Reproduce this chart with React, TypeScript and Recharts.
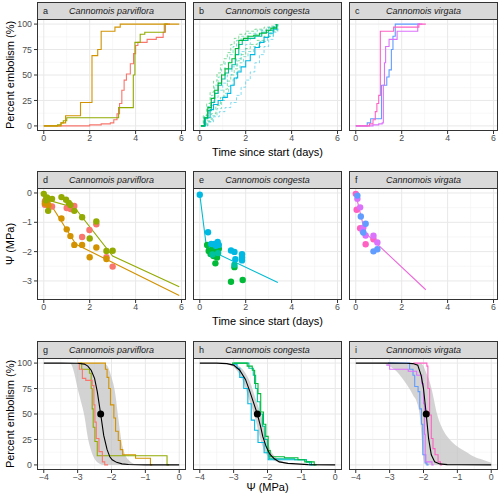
import React from "react";
import { ComposedChart, Line, Area, Scatter, XAxis, YAxis, CartesianGrid } from "recharts";

type P = [number, number];

// colours (ggplot hue palette, 9 levels)
const RED = "#F8766D";
const GOLD = "#D39200";
const OLIVE = "#93AA00";
const GREEN = "#00BA38";
const TEAL = "#00C19F";
const CYAN = "#00B9E3";
const BLUE = "#619CFF";
const PURPLE = "#DB72FB";
const PINK = "#FF61C3";

const speciesNames = ["Cannomois parviflora", "Cannomois congesta", "Cannomois virgata"];
const panelLetters = ["a", "b", "c", "d", "e", "f", "g", "h", "i"];

const dayTicks = [0, 2, 4, 6];
const dayMinor = [1, 3, 5];
const pctTicks = [0, 25, 50, 75, 100];
const pctMinor = [12.5, 37.5, 62.5, 87.5];
const psiTicks = [-3, -2, -1, 0];
const psiMinor = [-3.5, -2.5, -1.5, -0.5];
const mpaTicks = [-4, -3, -2, -1, 0];
const mpaMinor = [-3.5, -2.5, -1.5, -0.5];

// ---- row 1: embolism over time (days, %) ----
const aGold: P[] = [[0, 0], [0.75, 3], [0.95, 10], [1.6, 23], [2.1, 69], [2.35, 75], [2.5, 93], [3.1, 97], [3.33, 100], [5.9, 100]];
const aOlive: P[] = [[0, 0], [0.6, 1], [0.75, 3], [0.85, 5], [1.0, 8], [3.26, 18], [3.9, 50], [3.97, 82], [4.2, 90], [4.4, 92], [5.25, 100], [5.4, 100]];
const aRed: P[] = [[0, 0], [1.5, 0], [2.0, 1], [2.5, 2], [2.9, 3], [3.05, 6], [3.19, 12], [3.3, 22], [3.4, 35], [3.5, 45], [3.6, 51], [3.77, 61], [3.91, 71], [4.0, 79], [4.1, 82], [4.5, 85], [4.9, 87], [5.2, 92], [5.3, 100], [5.5, 100]];

const bGreen: P[] = [[0.05, 0], [0.2, 8], [0.35, 18], [0.5, 27], [0.65, 35], [0.8, 42], [0.95, 50], [1.1, 56], [1.25, 62], [1.4, 66], [1.55, 76], [1.7, 84], [1.9, 86], [2.1, 88], [2.35, 89], [2.6, 91], [2.9, 94], [3.1, 96], [3.35, 100]];
const bTeal: P[] = [[0.05, 0], [0.2, 7], [0.35, 15], [0.5, 23], [0.65, 32], [0.8, 40], [0.95, 46], [1.1, 52], [1.25, 56], [1.4, 60], [1.55, 70], [1.7, 80], [1.85, 84], [2.1, 86], [2.4, 88], [2.7, 92], [3.0, 94], [3.2, 97], [3.35, 100]];
const bCyan: P[] = [[0.05, 0], [0.25, 8], [0.45, 16], [0.6, 21], [0.8, 25], [1.0, 28], [1.2, 32], [1.35, 40], [1.5, 47], [1.65, 53], [1.8, 58], [2.0, 64], [2.2, 70], [2.4, 77], [2.6, 82], [2.8, 87], [3.0, 91], [3.2, 95], [3.35, 100]];
const bGreenHi: P[] = [[0.05, 0], [0.15, 10], [0.3, 22], [0.45, 33], [0.6, 44], [0.75, 52], [0.9, 60], [1.05, 66], [1.2, 72], [1.35, 80], [1.5, 86], [1.7, 90], [2.0, 93], [2.4, 95], [2.8, 97], [3.1, 98], [3.3, 100]];
const bGreenLo: P[] = [[0.1, 0], [0.3, 5], [0.5, 12], [0.7, 20], [0.9, 28], [1.05, 36], [1.2, 44], [1.35, 50], [1.5, 56], [1.65, 64], [1.8, 70], [2.0, 76], [2.2, 80], [2.5, 84], [2.8, 88], [3.1, 93], [3.35, 100]];
const bTealHi: P[] = [[0.05, 0], [0.18, 9], [0.33, 19], [0.5, 30], [0.65, 40], [0.8, 48], [0.95, 56], [1.1, 62], [1.3, 70], [1.45, 78], [1.6, 84], [1.8, 88], [2.1, 91], [2.5, 94], [2.9, 96], [3.25, 100]];
const bTealLo: P[] = [[0.12, 0], [0.35, 4], [0.55, 10], [0.75, 17], [0.95, 25], [1.1, 32], [1.25, 39], [1.45, 46], [1.6, 54], [1.75, 62], [1.9, 68], [2.1, 73], [2.35, 78], [2.65, 83], [2.95, 88], [3.2, 94], [3.4, 100]];
const bCyanHi: P[] = [[0.05, 0], [0.2, 10], [0.4, 20], [0.6, 28], [0.8, 35], [1.0, 42], [1.2, 50], [1.4, 58], [1.6, 66], [1.8, 73], [2.0, 80], [2.2, 86], [2.4, 90], [2.7, 94], [3.0, 97], [3.3, 100]];
const bCyanLo: P[] = [[0.1, 0], [0.35, 4], [0.6, 9], [0.85, 14], [1.1, 18], [1.35, 23], [1.6, 30], [1.8, 38], [2.0, 45], [2.2, 53], [2.4, 62], [2.6, 70], [2.8, 78], [3.0, 85], [3.2, 92], [3.4, 100]];

const cPink: P[] = [[0, 0], [0.5, 0], [0.6, 2], [0.75, 6], [0.85, 14], [0.92, 22], [1.0, 30], [1.07, 93], [1.65, 97], [2.75, 100], [3.05, 100]];
const cPurple: P[] = [[0, 0], [0.6, 0], [0.75, 1], [1.0, 2], [1.15, 3], [1.2, 40], [1.25, 62], [1.3, 78], [1.45, 85], [1.8, 93], [2.7, 100], [2.9, 100]];
const cBlue: P[] = [[0, 0], [0.45, 0], [0.5, 3], [0.65, 7], [1.12, 40], [1.35, 48], [1.45, 55], [1.55, 75], [1.62, 88], [1.72, 100], [2.8, 100]];

// ---- row 2: water potential over time (days, MPa) ----
const dOlivePts: P[] = [[0, -0.03], [0.14, -0.15], [0.36, -0.2], [0.77, -0.14], [0.97, -0.23], [1.09, -0.34], [1.16, -0.41], [1.33, -0.61], [1.67, -0.83], [2.29, -0.97], [2.0, -1.55], [2.73, -1.98], [3.0, -1.97], [0.19, -0.61], [0.1, -0.25]];
const dRedPts: P[] = [[0.05, -0.28], [0.05, -0.4], [0.36, -0.46], [1.0, -0.51], [1.17, -0.55], [1.33, -0.44], [1.67, -1.5], [1.99, -1.26], [2.29, -1.07], [2.73, -2.19], [3.0, -2.51], [0.15, -0.35]];
const dGoldPts: P[] = [[0.05, -0.35], [0.15, -0.3], [0.2, -0.42], [0.77, -0.87], [1.0, -1.24], [1.16, -1.47], [1.33, -1.77], [1.67, -1.77], [2.0, -2.19], [2.29, -1.86], [2.73, -2.25], [0.1, -0.2]];
const dOliveFit: P[] = [[0, -0.2], [1.35, -0.5], [3.0, -2.15], [5.9, -3.2]];
const dGoldFit: P[] = [[0, -0.3], [0.35, -0.45], [1.4, -1.75], [5.9, -3.5]];

const eCyanPts: P[] = [[0, -0.06], [0.36, -1.34], [0.5, -1.74], [0.64, -1.74], [0.78, -1.67], [0.83, -1.77], [1.36, -1.96], [1.51, -2.01], [1.55, -2.26], [1.84, -2.09], [1.84, -2.2], [0.7, -1.8], [1.84, -2.3]];
const eGreenPts: P[] = [[0.32, -1.77], [0.39, -1.98], [0.47, -2.08], [0.64, -2.0], [0.68, -2.4], [0.75, -2.2], [0.83, -1.9], [1.51, -2.53], [1.36, -3.03], [1.87, -2.97], [0.53, -1.93], [0.6, -2.15]];
const eTealPts: P[] = [[0.55, -2.1], [0.8, -2.05], [1.51, -2.45]];
const eFit: P[] = [[0, -0.05], [0.3, -1.9], [3.4, -3.05]];

const fPinkPts: P[] = [[0, -0.03], [0.04, -0.57], [0.19, -1.2], [0.43, -1.75], [0.77, -1.58]];
const fBluePts: P[] = [[0.07, -0.09], [0.22, -0.8], [0.43, -1.05], [0.33, -1.35], [0.77, -1.99], [0.94, -1.92]];
const fPurplePts: P[] = [[0.07, -0.2], [0.19, -0.49], [0.33, -1.18], [0.43, -1.45], [0.77, -1.46], [0.94, -1.69], [0.3, -1.3]];
const fFit: P[] = [[0, -0.05], [0.4, -1.35], [3.05, -3.3]];

// ---- row 3: vulnerability curves (MPa, %) ----
const gCurve: P[] = [[-4, 100], [-3.5, 100], [-3.0, 99.8], [-2.8, 99], [-2.7, 97], [-2.6, 93], [-2.5, 85], [-2.42, 72], [-2.32, 50], [-2.23, 29], [-2.13, 15], [-2.05, 8], [-1.98, 5], [-1.85, 2.5], [-1.69, 1], [-1.5, 0.4], [-1, 0], [0, 0]];
const gBandX = [-3.4, -3.3, -3.2, -3.1, -3.0, -2.9, -2.8, -2.7, -2.6, -2.5, -2.4, -2.3, -2.2, -2.1, -2.0, -1.9, -1.8, -1.7, -1.6, -1.5, -1.4, -1.3, -1.2];
const gBandLo = [100, 100, 99, 90, 75, 62, 48, 27, 14, 6, 2, 0.5, 0, 0, 0, 0, 0, 0, 0, 0, 0, 0, 0];
const gBandHi = [100, 100, 100, 100, 100, 100, 100, 100, 100, 100, 100, 99.5, 99, 96, 86, 72, 46, 22, 10, 5, 2, 0.5, 0];
const gP50: P[] = [[-2.32, 50]];
const gGold: P[] = [[-3.0, 100], [-2.18, 94], [-2.13, 86], [-2.08, 75], [-2.03, 59], [-1.93, 46], [-1.88, 33], [-1.8, 24], [-1.74, 15], [-1.67, 10], [-1.29, 6.5], [-0.85, 0], [-0.8, 0]];
const gOlive: P[] = [[-2.93, 100], [-2.88, 94], [-2.65, 90], [-2.6, 75], [-2.57, 55], [-2.54, 37], [-2.49, 23], [-2.42, 9], [-0.36, 0], [-0.3, 0]];
const gRed: P[] = [[-2.97, 100], [-2.95, 94], [-2.86, 85], [-2.76, 83], [-2.57, 78], [-2.52, 59], [-2.49, 42], [-2.45, 26], [-2.37, 13], [-2.27, 3], [-2.2, 0], [-2.1, 0]];

const hCurve: P[] = [[-4, 100], [-3.5, 100], [-3.2, 99.5], [-3.0, 98], [-2.82, 93], [-2.65, 84], [-2.53, 73], [-2.4, 60], [-2.3, 50], [-2.2, 37], [-2.14, 28], [-2.04, 18], [-1.94, 11], [-1.8, 6], [-1.65, 3], [-1.4, 1.5], [-1.16, 1], [-0.8, 0.3], [0, 0]];
const hBandX = [-3.2, -3.1, -3.0, -2.9, -2.8, -2.7, -2.6, -2.5, -2.4, -2.3, -2.2, -2.1, -2.0, -1.9, -1.8, -1.7, -1.6, -1.5, -1.4, -1.3, -1.2];
const hBandLo = [99, 98, 96, 92.5, 87, 80, 70, 60, 50, 37, 24, 14, 9, 6, 4, 2.7, 2, 1.5, 1.2, 1, 0.8];
const hBandHi = [99.7, 99.5, 99, 98, 96, 92.5, 87, 80, 70, 60, 50, 37, 24, 14, 9, 6, 4, 2.7, 2, 1.5, 1.2];
const hP50: P[] = [[-2.3, 50]];
const hGreen: P[] = [[-3.05, 100], [-2.6, 97], [-2.45, 93], [-2.38, 80], [-2.28, 70], [-2.2, 52], [-2.12, 40], [-2.05, 28], [-1.98, 14], [-1.92, 8], [-1.5, 7], [-1.1, 5], [-0.9, 3], [-0.62, 0], [-0.55, 0]];
const hTeal: P[] = [[-3.0, 100], [-2.55, 95], [-2.42, 88], [-2.35, 75], [-2.3, 62], [-2.22, 50], [-2.15, 38], [-2.08, 25], [-2.0, 12], [-1.95, 6], [-1.2, 5], [-0.85, 3], [-0.7, 0], [-0.6, 0]];
const hCyan: P[] = [[-3.05, 99], [-2.9, 95], [-2.82, 86], [-2.7, 75], [-2.58, 60], [-2.48, 44], [-2.38, 34], [-2.28, 22], [-2.1, 12], [-1.98, 5], [-0.85, 3], [-0.75, 0], [-0.7, 0]];

const iCurve: P[] = [[-4, 100], [-3, 100], [-2.5, 99.8], [-2.31, 99.5], [-2.17, 98], [-2.07, 88], [-2.0, 75], [-1.92, 50], [-1.85, 26], [-1.77, 10], [-1.67, 3], [-1.52, 1], [-1.3, 0.3], [-1, 0.1], [0, 0]];
const iBandX = [-3.4, -3.2, -3.0, -2.8, -2.6, -2.4, -2.3, -2.2, -2.1, -2.05, -2.0, -1.95, -1.9, -1.85, -1.75, -1.6, -1.4, -1.2, -1.0, -0.75, -0.5, -0.25, 0];
const iBandLo = [100, 99.5, 97, 92, 84, 74, 68, 62, 45, 25, 5, 0.5, 0, 0, 0, 0, 0, 0, 0, 0, 0, 0, 0];
const iBandHi = [100, 100, 100, 100, 100, 100, 100, 100, 100, 99, 97, 93, 89, 85, 73, 50, 33, 24, 18, 13, 8, 5, 2];
const iP50: P[] = [[-1.92, 50]];
const iPink: P[] = [[-2.3, 100], [-1.9, 97], [-1.87, 75], [-1.82, 49], [-1.77, 26], [-1.72, 16], [-1.66, 10], [-1.57, 3], [-1.5, 0], [-1.45, 0]];
const iPurple: P[] = [[-3.1, 98], [-3.0, 94], [-2.45, 92], [-2.2, 88], [-2.05, 80], [-2.0, 60], [-1.97, 30], [-1.95, 10], [-1.93, 3], [-1.75, 0], [-1.7, 0]];
const iBlue: P[] = [[-3.05, 100], [-2.41, 94], [-2.31, 88], [-2.26, 77], [-2.16, 72], [-2.11, 55], [-2.06, 40], [-2.02, 10], [-1.95, 2], [-1.9, 0], [-1.85, 0]];

const pts = (a: P[]) => a.map(([x, y]) => ({ x, y }));
const band = (xs: number[], lo: number[], hi: number[]) => xs.map((x, i) => ({ x, band: [lo[i], hi[i]] }));

// layout
const COLS = [37, 193, 349];
const ROWS = [19, 188, 358];
const PW = 149;
const PH = 112;
const YW = 37;
const XH = 20;
const STRIP = 17;

const fmt = (v: number) => String(v).replace("-", "\u2212");

const xCfg = [
  { domain: [-0.295, 6.195], major: dayTicks, minor: dayMinor },
  { domain: [-0.295, 6.195], major: dayTicks, minor: dayMinor },
  { domain: [-4.2, 0.2], major: mpaTicks, minor: mpaMinor },
];
const yCfg = [
  { domain: [-5, 105], major: pctTicks, minor: pctMinor },
  { domain: [-3.65, 0.17], major: psiTicks, minor: psiMinor },
  { domain: [-5, 105], major: pctTicks, minor: pctMinor },
];

function step(d: P[], color: string, key: string, dashed = false) {
  return (
    <Line
      key={key}
      data={pts(d)}
      dataKey="y"
      type="stepAfter"
      stroke={color}
      strokeWidth={dashed ? 0.9 : 1.1}
      strokeOpacity={dashed ? 0.55 : 1}
      strokeDasharray={dashed ? "3 2" : undefined}
      dot={false}
      activeDot={false}
      isAnimationActive={false}
    />
  );
}

function fit(d: P[], color: string, key: string) {
  return (
    <Line key={key} data={pts(d)} dataKey="y" type="linear" stroke={color} strokeWidth={1.1}
      dot={false} activeDot={false} isAnimationActive={false} />
  );
}

function dots(d: P[], color: string, key: string, r = 3.2) {
  return (
    <Scatter
      key={key}
      data={pts(d)}
      dataKey="y"
      isAnimationActive={false}
      shape={(p: any) => <circle cx={p.cx} cy={p.cy} r={r} fill={color} />}
    />
  );
}

function vc(curve: P[], bx: number[], lo: number[], hi: number[], p50: P[], key: string) {
  return [
    <Area key={key + "band"} data={band(bx, lo, hi)} dataKey="band" type="monotone" stroke="none"
      fill="#c4c4c4" fillOpacity={0.75} isAnimationActive={false} />,
  ];
}

function Panel({ col, row, children }: { col: number; row: number; children: React.ReactNode }) {
  const first = col === 0;
  const xc = xCfg[row];
  const yc = yCfg[row];
  const left = COLS[col];
  const top = ROWS[row];
  const idx = row * 3 + col;
  return (
    <>
      <div style={{ position: "absolute", left: left - (first ? YW : 0), top }}>
        <ComposedChart width={PW + (first ? YW : 0)} height={PH + XH} margin={{ top: 0, right: 0, bottom: 0, left: 0 }}>
          <CartesianGrid verticalValues={xc.minor} horizontalValues={yc.minor} stroke="#f2f2f2" strokeWidth={0.6} />
          <CartesianGrid verticalValues={xc.major} horizontalValues={yc.major} stroke="#e8e8e8" strokeWidth={1} />
          <XAxis type="number" dataKey="x" domain={xc.domain} ticks={xc.major} allowDataOverflow interval={0}
            height={XH} tickSize={3} tickMargin={1} axisLine={false} tickLine={{ stroke: "#333" }}
            tick={{ fontSize: 8.8, fill: "#4d4d4d" }} tickFormatter={fmt} />
          <YAxis type="number" domain={yc.domain} ticks={yc.major} allowDataOverflow interval={0} hide={!first}
            width={YW} tickSize={3} tickMargin={2} axisLine={false} tickLine={{ stroke: "#333" }}
            tick={{ fontSize: 8.8, fill: "#4d4d4d" }} tickFormatter={fmt} />
          {children}
        </ComposedChart>
      </div>
      <div style={{ position: "absolute", left, top, width: PW, height: PH, border: "1px solid #333",
        boxSizing: "border-box", pointerEvents: "none" }} />
      <div style={{ position: "absolute", left, top: top - STRIP, width: PW, height: STRIP + 1,
        background: "#d9d9d9", border: "1px solid #333", boxSizing: "border-box", color: "#1a1a1a",
        fontSize: 9, lineHeight: `${STRIP - 1}px`, textAlign: "center" }}>
        <span style={{ position: "absolute", left: 5 }}>{panelLetters[idx]}</span>
        <span style={{ fontStyle: "italic" }}>{speciesNames[col]}</span>
      </div>
    </>
  );
}

const titleStyle: React.CSSProperties = { position: "absolute", fontSize: 11, color: "#000", whiteSpace: "nowrap" };

function XTitle({ y, text }: { y: number; text: string }) {
  return (
    <div style={{ ...titleStyle, left: COLS[0], width: COLS[2] + PW - COLS[0], top: y, textAlign: "center" }}>{text}</div>
  );
}

function YTitle({ row, text }: { row: number; text: string }) {
  const cy = ROWS[row] + PH / 2;
  return (
    <div style={{ ...titleStyle, left: 10, top: cy, transform: "translate(-50%, -50%) rotate(-90deg)" }}>{text}</div>
  );
}

export default function App() {
  return (
    <div style={{ position: "absolute", left: 0, top: 0, width: 500, height: 498, background: "#fff",
      fontFamily: "'Liberation Sans', Arial, sans-serif" }}>
      <Panel col={0} row={0}>
        {step(aRed, RED, "r")}
        {step(aOlive, OLIVE, "o")}
        {step(aGold, GOLD, "g")}
      </Panel>
      <Panel col={1} row={0}>
        {step(bGreenHi, GREEN, "gh", true)}
        {step(bGreenLo, GREEN, "gl", true)}
        {step(bTealHi, TEAL, "th", true)}
        {step(bTealLo, TEAL, "tl", true)}
        {step(bCyanHi, CYAN, "ch", true)}
        {step(bCyanLo, CYAN, "cl", true)}
        {step(bCyan, CYAN, "c")}
        {step(bTeal, TEAL, "t")}
        {step(bGreen, GREEN, "g")}
      </Panel>
      <Panel col={2} row={0}>
        {step(cBlue, BLUE, "b")}
        {step(cPurple, PURPLE, "p")}
        {step(cPink, PINK, "k")}
      </Panel>

      <Panel col={0} row={1}>
        {fit(dGoldFit, GOLD, "gf")}
        {fit(dOliveFit, OLIVE, "of")}
        {dots(dRedPts, RED, "r")}
        {dots(dGoldPts, GOLD, "g")}
        {dots(dOlivePts, OLIVE, "o")}
      </Panel>
      <Panel col={1} row={1}>
        {fit(eFit, "#00BCD2", "f")}
        {dots(eGreenPts, GREEN, "g")}
        {dots(eTealPts, TEAL, "t")}
        {dots(eCyanPts, CYAN, "c")}
      </Panel>
      <Panel col={2} row={1}>
        {fit(fFit, "#EC69DA", "f")}
        {dots(fPinkPts, PINK, "k")}
        {dots(fPurplePts, PURPLE, "p")}
        {dots(fBluePts, BLUE, "b")}
      </Panel>

      <Panel col={0} row={2}>
        {vc(gCurve, gBandX, gBandLo, gBandHi, gP50, "g")}
        {step(gGold, GOLD, "go")}
        {step(gOlive, OLIVE, "ol")}
        {step(gRed, RED, "re")}
        {fit(gCurve, "#000", "curve")}
        {dots(gP50, "#000", "p50", 3.5)}
      </Panel>
      <Panel col={1} row={2}>
        {vc(hCurve, hBandX, hBandLo, hBandHi, hP50, "h")}
        {step(hCyan, CYAN, "cy")}
        {step(hTeal, TEAL, "te")}
        {step(hGreen, GREEN, "gr")}
        {fit(hCurve, "#000", "curve")}
        {dots(hP50, "#000", "p50", 3.5)}
      </Panel>
      <Panel col={2} row={2}>
        {vc(iCurve, iBandX, iBandLo, iBandHi, iP50, "i")}
        {step(iBlue, BLUE, "bl")}
        {step(iPurple, PURPLE, "pu")}
        {step(iPink, PINK, "pi")}
        {fit(iCurve, "#000", "curve")}
        {dots(iP50, "#000", "p50", 3.5)}
      </Panel>

      <YTitle row={0} text="Percent embolism (%)" />
      <YTitle row={1} text={"\u03A8 (MPa)"} />
      <YTitle row={2} text="Percent embolism (%)" />
      <XTitle y={146} text="Time since start (days)" />
      <XTitle y={315} text="Time since start (days)" />
      <XTitle y={481} text={"\u03A8 (MPa)"} />
    </div>
  );
}
